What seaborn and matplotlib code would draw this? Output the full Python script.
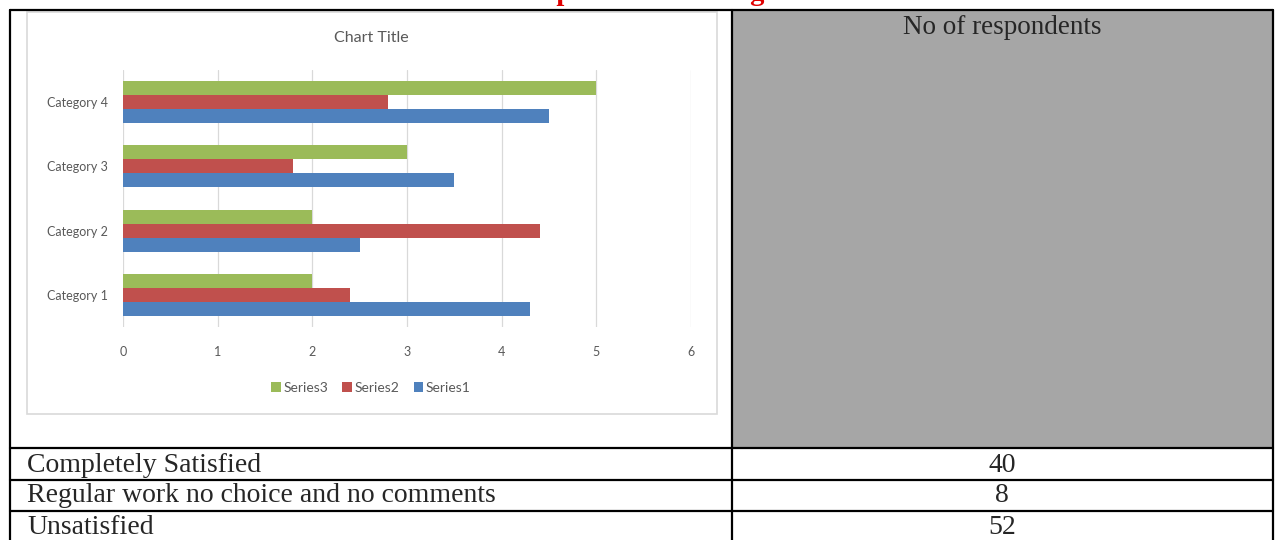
import numpy as np
import pandas as pd
import seaborn as sns
import matplotlib.pyplot as plt
from matplotlib.patches import Rectangle
from matplotlib.lines import Line2D

categories = ["Category 1", "Category 2", "Category 3", "Category 4"]
series1 = [4.3, 2.5, 3.5, 4.5]
series2 = [2.4, 4.4, 1.8, 2.8]
series3 = [2.0, 2.0, 3.0, 5.0]

row_labels = ["Completely Satisfied", "Regular work no choice and no comments", "Unsatisfied"]
respondents = [40, 8, 52]

W, H = 1277, 540


def fx(x):
    return x / W


def fy(y):
    return 1 - y / H


df = pd.DataFrame({
    "category": categories * 3,
    "value": series1 + series2 + series3,
    "series": ["Series1"] * 4 + ["Series2"] * 4 + ["Series3"] * 4,
})

sns.set_style("white")
plt.rcParams["font.family"] = ["Lato", "DejaVu Sans"]

fig = plt.figure(figsize=(W / 100, H / 100), dpi=100)
fig.patch.set_facecolor("white")

# gray header cell and chart frame (kept behind the axes)
fig.patches.append(Rectangle((fx(733), fy(447)), fx(1272) - fx(733), fy(10) - fy(447),
                             transform=fig.transFigure, facecolor="#A6A6A6", edgecolor="none", zorder=-2))
fig.patches.append(Rectangle((fx(27), fy(414)), fx(717) - fx(27), fy(12) - fy(414),
                             transform=fig.transFigure, facecolor="white", edgecolor="#D9D9D9", lw=1.2, zorder=-2))

ax = fig.add_axes([fx(123), fy(327), fx(691) - fx(123), fy(70) - fy(327)])
ax.set_zorder(2)
sns.barplot(data=df, x="value", y="category", hue="series",
            order=categories[::-1], hue_order=["Series3", "Series2", "Series1"],
            palette={"Series1": "#4F81BD", "Series2": "#C0504D", "Series3": "#9BBB59"},
            orient="h", width=0.65, saturation=1, linewidth=0, ax=ax)
ax.set_xlim(0, 6)
ax.set_xticks(range(7))
ax.grid(axis="x", color="#D9D9D9", lw=0.9)
ax.set_axisbelow(True)
for s in ax.spines.values():
    s.set_visible(False)
ax.set_xlabel("")
ax.set_ylabel("")
ax.tick_params(axis="x", length=0, pad=14, labelsize=9, labelcolor="#595959")
ax.tick_params(axis="y", length=0, pad=11, labelsize=9, labelcolor="#595959")
ax.set_facecolor("none")

handles, labels = ax.get_legend_handles_labels()
ax.get_legend().remove()
fig.legend(handles, labels, loc="center", bbox_to_anchor=(fx(371), fy(388)), ncol=3,
           frameon=False, fontsize=10, labelcolor="#595959", handlelength=0.7,
           handleheight=0.7, handletextpad=0.2, columnspacing=1.0)

fig.text(fx(371), fy(38), "Chart Title", ha="center", va="center", fontsize=11.5, color="#595959")

# table text
serif = ["Liberation Serif", "DejaVu Serif"]
fig.text(fx(1002), fy(27), "No of respondents", ha="center", va="center", fontsize=19.5, family=serif)
row_y = [465, 496, 527]
for lab, val, y in zip(row_labels, respondents, row_y):
    fig.text(fx(27), fy(y), lab, ha="left", va="center", fontsize=20, family=serif)
    fig.text(fx(1002), fy(y), str(val), ha="center", va="center", fontsize=20, family=serif)

# clipped red heading above the table
fig.text(fx(512), fy(0), "Respondents' Rating", ha="left", va="baseline",
         fontsize=20.5, color="#E00000", weight="bold", family=serif)

# table borders
lw = 1.6
for y in [9.5, 448, 480, 511]:
    fig.lines.append(Line2D([fx(10), fx(1273)], [fy(y), fy(y)], transform=fig.transFigure, color="black", lw=lw))
for x in [10, 732, 1273]:
    fig.lines.append(Line2D([fx(x), fx(x)], [fy(9.5), fy(540)], transform=fig.transFigure, color="black", lw=lw))

fig.savefig("out.png", dpi=100)
